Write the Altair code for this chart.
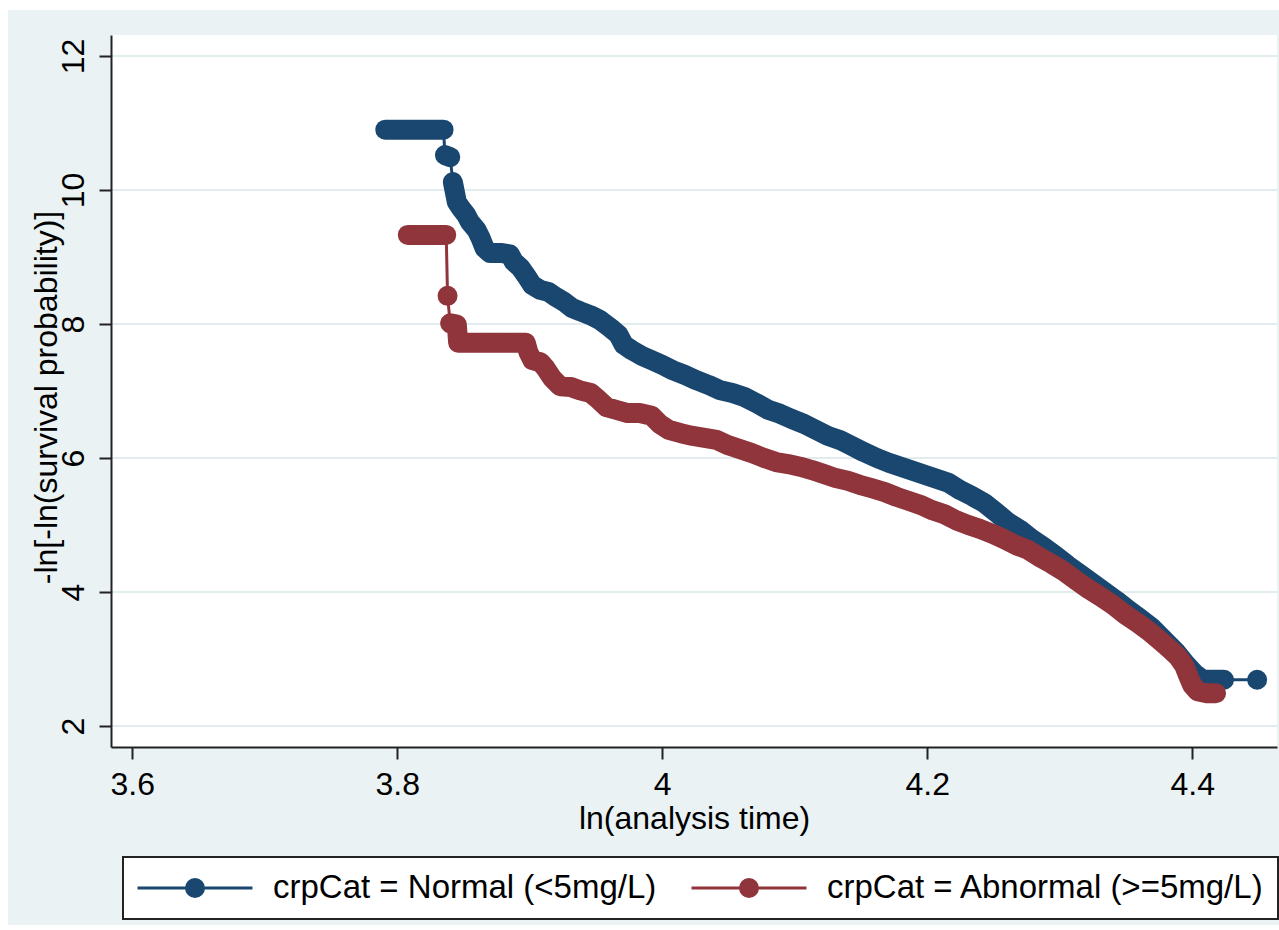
import altair as alt
import pandas as pd

# ---- data ----
series_names = ["crpCat = Normal (<5mg/L)", "crpCat = Abnormal (>=5mg/L)"]
series_colors = ["#1A476F", "#90353B"]

normal_x = [3.791, 3.800, 3.809, 3.818, 3.827, 3.835, 3.836, 3.840, 3.842, 3.845,
            3.848, 3.852, 3.855, 3.860, 3.863, 3.866, 3.870, 3.878, 3.885, 3.888,
            3.893, 3.897, 3.902, 3.908, 3.914, 3.920, 3.926, 3.932, 3.938, 3.946,
            3.953, 3.961, 3.967, 3.971, 3.977, 3.985, 3.992, 4.000, 4.008, 4.017,
            4.026, 4.035, 4.044, 4.053, 4.062, 4.071, 4.080, 4.089, 4.098, 4.107,
            4.116, 4.125, 4.134, 4.143, 4.152, 4.162, 4.171, 4.180, 4.189, 4.198,
            4.207, 4.216, 4.225, 4.234, 4.243, 4.252, 4.261, 4.270, 4.279, 4.288,
            4.297, 4.306, 4.315, 4.325, 4.334, 4.343, 4.352, 4.361, 4.370, 4.379,
            4.388, 4.395, 4.402, 4.408, 4.415, 4.424, 4.449]
normal_y = [10.90, 10.90, 10.90, 10.90, 10.90, 10.90, 10.52, 10.49, 10.12, 9.82,
            9.73, 9.63, 9.52, 9.40, 9.28, 9.13, 9.06, 9.06, 9.04, 8.93,
            8.84, 8.73, 8.58, 8.51, 8.48, 8.40, 8.33, 8.24, 8.19, 8.13,
            8.06, 7.94, 7.84, 7.69, 7.61, 7.52, 7.46, 7.39, 7.31, 7.24,
            7.16, 7.09, 7.01, 6.97, 6.91, 6.82, 6.72, 6.66, 6.58, 6.51,
            6.42, 6.33, 6.27, 6.18, 6.09, 6.00, 5.93, 5.87, 5.81, 5.75,
            5.69, 5.63, 5.52, 5.43, 5.33, 5.19, 5.04, 4.93, 4.79, 4.67,
            4.54, 4.40, 4.27, 4.13, 4.00, 3.87, 3.73, 3.60, 3.46, 3.28,
            3.10, 2.93, 2.78, 2.69, 2.69, 2.69, 2.69]

abnormal_x = [3.808, 3.815, 3.823, 3.830, 3.837, 3.838, 3.840, 3.845, 3.846, 3.853,
              3.860, 3.868, 3.875, 3.883, 3.891, 3.897, 3.899, 3.902, 3.908, 3.912,
              3.917, 3.923, 3.931, 3.938, 3.946, 3.952, 3.958, 3.965, 3.974, 3.983,
              3.992, 3.998, 4.005, 4.014, 4.023, 4.032, 4.041, 4.050, 4.059, 4.068,
              4.077, 4.086, 4.095, 4.104, 4.113, 4.122, 4.131, 4.140, 4.149, 4.158,
              4.168, 4.177, 4.186, 4.195, 4.204, 4.213, 4.222, 4.231, 4.240, 4.249,
              4.258, 4.267, 4.276, 4.285, 4.294, 4.303, 4.312, 4.322, 4.331, 4.340,
              4.349, 4.358, 4.367, 4.376, 4.383, 4.389, 4.394, 4.397, 4.400, 4.404,
              4.411, 4.418]
abnormal_y = [9.33, 9.33, 9.33, 9.33, 9.33, 8.42, 8.01, 7.99, 7.72, 7.72,
              7.72, 7.72, 7.72, 7.72, 7.72, 7.72, 7.58, 7.46, 7.43, 7.34,
              7.19, 7.07, 7.06, 7.01, 6.97, 6.87, 6.76, 6.72, 6.67, 6.67,
              6.63, 6.51, 6.42, 6.37, 6.33, 6.30, 6.27, 6.19, 6.13, 6.07,
              6.00, 5.94, 5.91, 5.87, 5.82, 5.76, 5.70, 5.66, 5.60, 5.55,
              5.49, 5.42, 5.36, 5.30, 5.22, 5.16, 5.07, 5.00, 4.94, 4.87,
              4.79, 4.70, 4.63, 4.52, 4.42, 4.31, 4.18, 4.04, 3.93, 3.81,
              3.67, 3.55, 3.42, 3.27, 3.15, 3.04, 2.90, 2.75, 2.61, 2.52,
              2.49, 2.49]

x_ticks = [3.6, 3.8, 4.0, 4.2, 4.4]
y_ticks = [2, 4, 6, 8, 10, 12]
x_title = "ln(analysis time)"
y_title = "-ln[-ln(survival probability)]"

# ---- table (segments: dense runs of markers vs. isolated jumps) ----
rows = []
for name, xs, ys in [(series_names[0], normal_x, normal_y),
                     (series_names[1], abnormal_x, abnormal_y)]:
    seg = 0
    for i, (xv, yv) in enumerate(zip(xs, ys)):
        if i > 0 and (abs(yv - ys[i - 1]) > 0.32 or abs(xv - xs[i - 1]) > 0.02):
            seg += 1
        rows.append({"t": xv, "s": yv, "group": name, "idx": i,
                     "seg": f"{name}-{seg}"})
df = pd.DataFrame(rows)
grid_df = pd.DataFrame({"v": y_ticks})

W, H = 1166, 712
FONT = "Liberation Sans"
BG = "#EAF2F3"

x_scale = alt.Scale(domain=[3.584, 4.464], nice=False, zero=False)
y_scale = alt.Scale(domain=[1.687, 12.313], nice=False, zero=False)

x_axis = alt.Axis(values=x_ticks, format=".2~f", grid=False, zindex=1,
                  title=x_title, titleFontSize=32, titleFontWeight="normal",
                  titleFont=FONT, titleColor="black", titleY=56,
                  titleBaseline="top",
                  labelFontSize=32, labelFont=FONT, labelColor="black",
                  labelPadding=10, tickSize=12, tickWidth=2, tickColor="#222",
                  domainColor="#222", domainWidth=2)
y_axis = alt.Axis(values=y_ticks, format="d", grid=False, zindex=1,
                  title=y_title, titleFontSize=32, titleFontWeight="normal",
                  titleFont=FONT, titleColor="black", titleAngle=270,
                  titleX=-65, titleY=362, titleAlign="center",
                  titleBaseline="middle",
                  labelFontSize=32, labelFont=FONT, labelColor="black",
                  labelAngle=270, labelAlign="center", labelBaseline="bottom",
                  labelPadding=9, tickSize=12, tickWidth=2, tickColor="#222",
                  domainColor="#222", domainWidth=2)

X = alt.X("t:Q", scale=x_scale, axis=x_axis)
Y = alt.Y("s:Q", scale=y_scale, axis=y_axis)

sym_path = ("M-1,0L1,0M0.148,0A0.148,0.148,0,1,1,-0.148,0"
            "A0.148,0.148,0,1,1,0.148,0Z")
legend = alt.Legend(orient="none", legendX=12, legendY=822,
                    direction="horizontal", title=None,
                    fillColor="white", strokeColor="#222", padding=13,
                    columnPadding=33, labelOffset=19, labelFontSize=33,
                    labelFont=FONT, labelColor="black", labelLimit=800,
                    symbolType=sym_path, symbolSize=13225,
                    symbolStrokeWidth=3, clipHeight=36)

color_scale = alt.Scale(domain=series_names, range=series_colors)

bg = alt.Chart(alt.Data(values=[{}])).mark_rect(color=BG).encode(
    x=alt.value(-103), x2=alt.value(1168), y=alt.value(-25), y2=alt.value(890))
plot_bg = alt.Chart(alt.Data(values=[{}])).mark_rect(color="white").encode(
    x=alt.value(0), x2=alt.value(W), y=alt.value(0), y2=alt.value(H))
grid = alt.Chart(grid_df).mark_rule(color="#E2ECEE", strokeWidth=2).encode(
    y=alt.Y("v:Q", scale=y_scale, axis=y_axis),
    x=alt.value(0), x2=alt.value(W))

layers = [bg, plot_bg, grid]
for name in series_names:
    base = alt.Chart(df).transform_filter(alt.datum.group == name)
    band = base.mark_line(strokeWidth=20, strokeCap="round",
                          strokeJoin="round").encode(
        x=X, y=Y,
        stroke=alt.Stroke("group:N", scale=color_scale, legend=legend),
        detail="seg:N", order="idx:Q")
    thin = base.mark_line(strokeWidth=3).encode(
        x=X, y=Y,
        stroke=alt.Stroke("group:N", scale=color_scale, legend=legend),
        order="idx:Q")
    pts = base.mark_circle(size=314, opacity=1).encode(
        x=X, y=Y,
        fill=alt.Fill("group:N", scale=color_scale, legend=legend))
    layers += [band, thin, pts]

chart = alt.layer(*layers).properties(
    width=W, height=H,
    padding={"left": 111, "top": 35, "right": 2, "bottom": 183},
    autosize=alt.AutoSizeParams(type="none"),
    background="white",
).configure(font=FONT).configure_view(stroke=None).configure_legend(strokeWidth=2)

chart.save("out.html", embed_options={"renderer": "svg", "actions": False})
